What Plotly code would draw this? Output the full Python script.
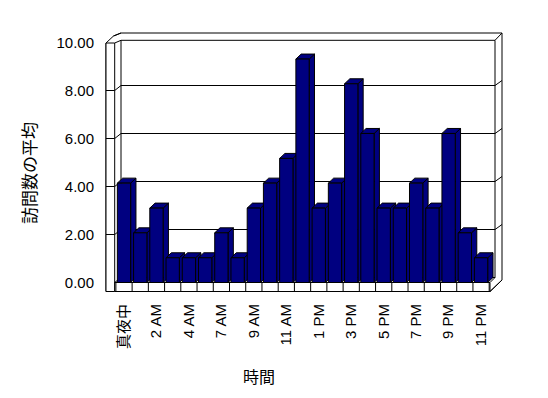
import plotly.graph_objects as go

# ---------------- data ----------------
hours = ["真夜中", "1 AM", "2 AM", "3 AM", "4 AM", "5 AM", "7 AM", "8 AM", "9 AM",
         "10 AM", "11 AM", "正午", "1 PM", "2 PM", "3 PM", "4 PM", "5 PM", "6 PM",
         "7 PM", "8 PM", "9 PM", "10 PM", "11 PM"]
visits = [4.14, 2.07, 3.10, 1.03, 1.03, 1.03, 2.07, 1.03, 3.10, 4.14, 5.17, 9.31,
          3.10, 4.14, 8.28, 6.21, 3.10, 3.10, 4.14, 3.10, 6.21, 2.07, 1.03]
y_ticks = [0, 2, 4, 6, 8, 10]
y_ticktext = ["0.00", "2.00", "4.00", "6.00", "8.00", "10.00"]
x_title = "時間"
y_title = "訪問数の平均"

# ---------------- geometry (pixels) ----------------
W, H = 548, 398
L, R, T, B = 97, 510, 28, 296
X0, XSTEP = 124.0, 16.23      # pixel centre of category 0, spacing
Y0, YSTEP = 282.5, 24.0       # pixel of value 0, pixels per unit

def px2x(px):
    return (px - X0) / XSTEP

def py2y(py):
    return (Y0 - py) / YSTEP

def pxp(px):
    return (px - L) / (R - L)

def pyp(py):
    return (B - py) / (B - T)

NAVY = "#000080"
BW = 0.82
DX = 5.3 / XSTEP   # bar depth in category units
DY = 5.0 / YSTEP   # bar depth in value units

shapes = []

def poly(pts, fill="white", lw=1, layer="below"):
    d = "M " + " L ".join(f"{x:.4f},{y:.4f}" for x, y in pts) + " Z"
    shapes.append(dict(type="path", path=d, xref="x", yref="y",
                       fillcolor=fill, line=dict(color="black", width=lw), layer=layer))

def line(p1, p2, layer="below"):
    shapes.append(dict(type="line", xref="x", yref="y", x0=p1[0], y0=p1[1],
                       x1=p2[0], y1=p2[1], line=dict(color="black", width=1), layer=layer))

def P(px, py):
    return (px2x(px), py2y(py))

# outer outline of walls + floor
poly([P(106, 43), P(113.5, 36), P(121, 33), P(502, 33), P(502, 280),
      P(490, 291.5), P(106, 291.5)])
# back wall front face
poly([P(121, 40.3), P(495, 40.3), P(495, 277.5), P(121, 277.5)])
# left wall front face
poly([P(106, 43), P(114.7, 43), P(114.7, 291.5), P(106, 291.5)])
line(P(114.7, 43), P(121, 40.3))
line(P(113.5, 36), P(121, 33))
line(P(495, 40.3), P(502, 33))
# floor
poly([P(114.7, 282.5), P(490, 282.5), P(490, 291.5), P(114.7, 291.5)])
poly([P(114.7, 282.5), P(121, 277.5), P(495, 277.5), P(490, 282.5)])
line(P(490, 291.5), P(502, 280))
# category dividers on floor front
for i in range(len(hours) + 1):
    xb = i - 0.5
    line((xb, py2y(282.5)), (xb, py2y(291.5)))

# gridlines on walls
for v in y_ticks[1:-1]:
    yb = v + DY
    line((px2x(106), v), (px2x(114.7), v))
    line((px2x(114.7), v), (px2x(121), yb))
    line((px2x(121), yb), (px2x(495), yb))
    line((px2x(495), yb), (px2x(502), yb + 5 / YSTEP))

# bar side and top faces
for i, v in enumerate(visits):
    xl, xr = i - BW / 2, i + BW / 2
    poly([(xr, 0), (xr + DX, DY), (xr + DX, v + DY), (xr, v)], fill=NAVY)
    poly([(xl, v), (xl + DX, v + DY), (xr + DX, v + DY), (xr, v)], fill=NAVY)

fig = go.Figure()
fig.add_trace(go.Bar(
    x=list(range(len(hours))), y=visits, width=BW,
    marker=dict(color=NAVY, line=dict(color="black", width=1)),
    hoverinfo="skip", showlegend=False,
))

FONT = "Liberation Sans, Noto Sans CJK JP, sans-serif"

fig.update_layout(
    width=W, height=H,
    margin=dict(l=L, r=W - R, t=T, b=H - B, pad=0, autoexpand=False),
    paper_bgcolor="white", plot_bgcolor="white",
    font=dict(family=FONT, size=15, color="black"),
    shapes=shapes,
    xaxis=dict(range=[px2x(L), px2x(R)], tickmode="array",
               tickvals=list(range(0, len(hours), 2)),
               ticktext=hours[0::2], tickangle=-90, showgrid=False,
               zeroline=False, showline=False, ticks="", automargin=False,
               ticklabelstandoff=4,
               tickfont=dict(size=15, family=FONT, color="black")),
    yaxis=dict(range=[py2y(B), py2y(T)], tickmode="array",
               tickvals=y_ticks, ticktext=y_ticktext, showgrid=False,
               zeroline=False, showline=False, ticks="", automargin=False,
               ticklabelstandoff=2,
               tickfont=dict(size=15, family=FONT, color="black")),
    annotations=[
        dict(text=x_title, xref="paper", yref="paper", x=pxp(258.5), y=pyp(375.5),
             xanchor="center", yanchor="middle",
             showarrow=False, font=dict(size=16, family="Noto Sans CJK JP", color="black")),
        dict(text=y_title, xref="paper", yref="paper", x=pxp(28), y=pyp(173),
             xanchor="center", yanchor="middle",
             showarrow=False, textangle=-90,
             font=dict(size=17, family="Noto Sans CJK JP", color="black")),
    ],
)

fig.write_html("out.html", config={"displayModeBar": False},
               post_script="document.body.style.margin='0';")
